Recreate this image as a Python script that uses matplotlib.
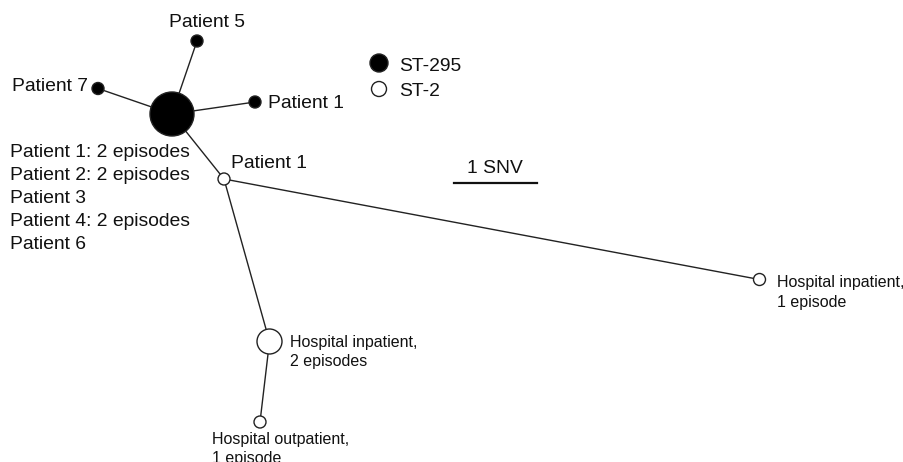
import matplotlib
matplotlib.use("Agg")
import matplotlib.pyplot as plt
from matplotlib.patches import Circle

plt.rcParams["font.family"] = ["Liberation Sans", "DejaVu Sans"]

# -----------------------------
# network data (layout in image units)
# -----------------------------
node_names = ["hub", "p5", "p7", "p1_black", "p1_white",
              "hosp_in_2", "hosp_out_1", "hosp_in_1"]
node_x = [172, 197, 98, 255, 224, 269.5, 260, 759.5]
node_y = [114, 41, 88.5, 102, 179, 341.5, 422, 279.5]
node_st = ["ST-295", "ST-295", "ST-295", "ST-295", "ST-2", "ST-2", "ST-2", "ST-2"]
node_isolates = [8, 1, 1, 1, 1, 2, 1, 1]

edges = [(0, 1), (0, 2), (0, 3), (0, 4), (4, 7), (4, 5), (5, 6)]

node_labels = [
    ("Patient 1: 2 episodes\nPatient 2: 2 episodes\nPatient 3\nPatient 4: 2 episodes\nPatient 6", 10, 157, "left", "big"),
    ("Patient 5", 207, 27, "center", "big"),
    ("Patient 7", 12, 91, "left", "big"),
    ("Patient 1", 268, 108, "left", "big"),
    ("Patient 1", 231, 168, "left", "big"),
    ("Hospital inpatient,\n2 episodes", 290.5, 346.5, "left", "small"),
    ("Hospital outpatient,\n1 episode", 212, 444, "left", "small"),
    ("Hospital inpatient,\n1 episode", 777, 287, "left", "small"),
]

legend_st = ["ST-295", "ST-2"]

# -----------------------------
# styles
# -----------------------------
radius_for = {1: 6, 2: 12.5, 8: 22}
face_for = {"ST-295": "black", "ST-2": "white"}
font_for = {"big": 13.9, "small": 11.5}
line_gap = {"big": 23, "small": 19.5}

fig = plt.figure(figsize=(9.04, 4.62), dpi=100)
ax = fig.add_axes([0, 0, 1, 1])
ax.set_xlim(0, 904)
ax.set_ylim(462, 0)
ax.set_aspect("equal")
ax.axis("off")

# edges
for a, b in edges:
    ax.plot([node_x[a], node_x[b]], [node_y[a], node_y[b]],
            color="#222222", lw=1.0, zorder=1)

# nodes
for x, y, st, n in zip(node_x, node_y, node_st, node_isolates):
    ax.add_patch(Circle((x, y), radius_for[n], facecolor=face_for[st],
                        edgecolor="#222222", lw=1.0, zorder=2))

# labels
for text, x, y, ha, kind in node_labels:
    for i, line in enumerate(text.split("\n")):
        ax.text(x, y + i * line_gap[kind], line, ha=ha, va="baseline",
                fontsize=font_for[kind], color="#111111")

# legend
for i, st in enumerate(legend_st):
    ly = 63 + i * 26
    r = 9 if st == "ST-295" else 7.5
    ax.add_patch(Circle((379, ly), r, facecolor=face_for[st],
                        edgecolor="#222222", lw=1.0, zorder=2))
    ax.text(399, ly + 7.5, st, ha="left", va="baseline",
            fontsize=font_for["big"], color="#111111")

# scale bar
ax.plot([454, 537], [182.7, 182.7], color="#111111", lw=1.6)
ax.text(495, 173, "1 SNV", ha="center", va="baseline",
        fontsize=font_for["big"], color="#111111")

fig.savefig("out.png", dpi=100)
